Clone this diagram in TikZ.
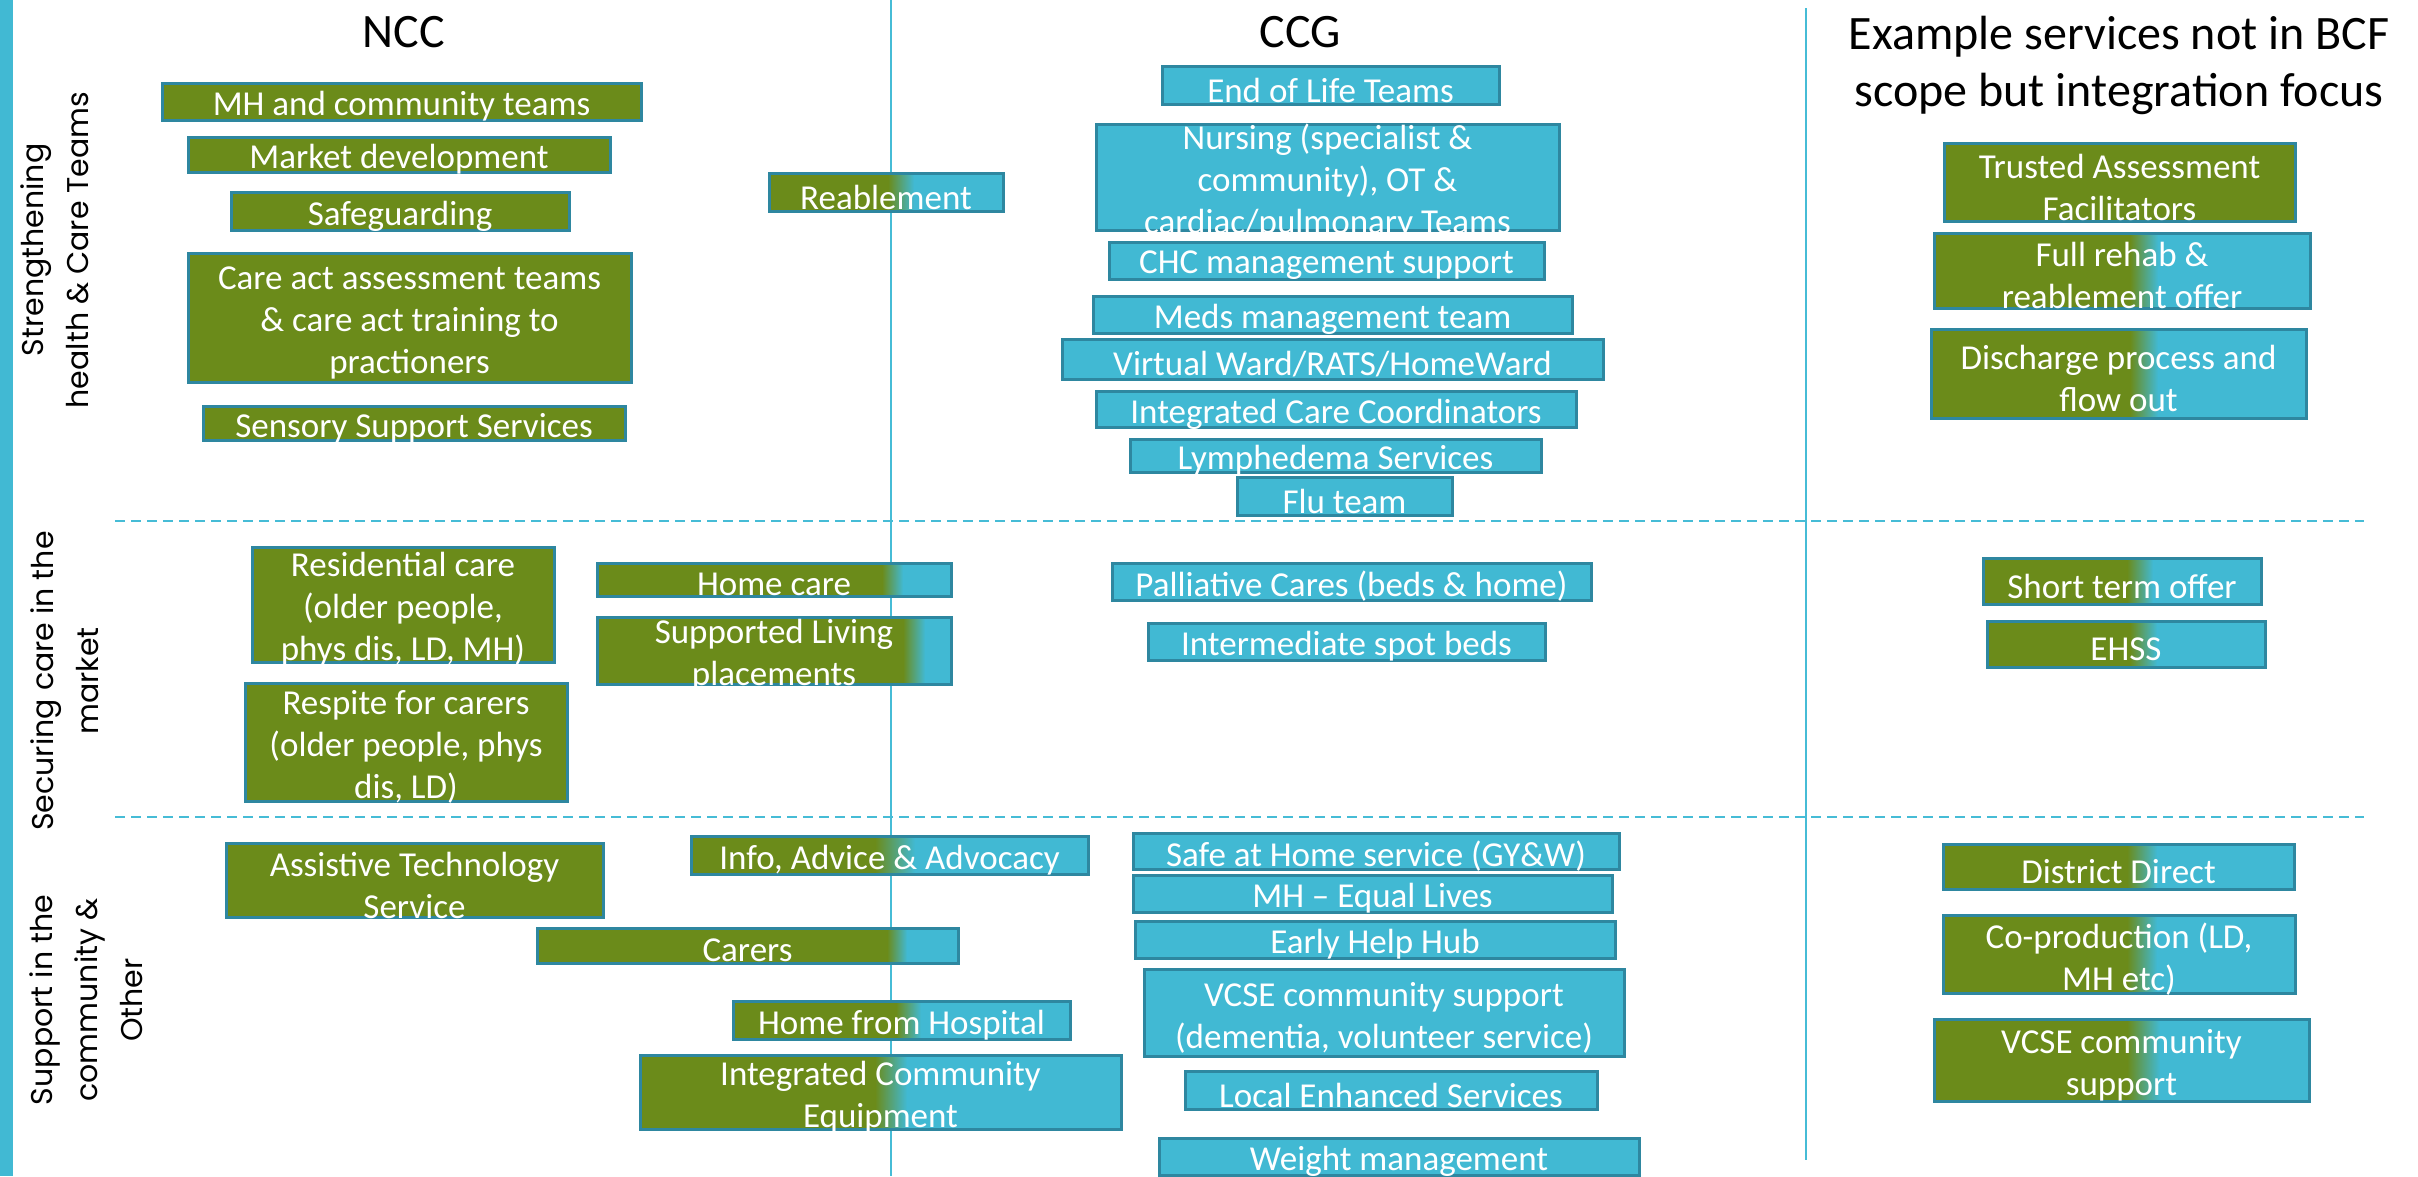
\documentclass[tikz,border=0pt]{standalone}
\usepackage{fontspec}
\setmainfont{Carlito}
\newfontfamily\gothic{Poppins}
\definecolor{ngreen}{RGB}{107,139,26}
\definecolor{nblue}{RGB}{65,185,211}
\definecolor{nborder}{RGB}{46,135,160}
\definecolor{nline}{RGB}{70,188,214}
\tikzset{
  boxtext/.style={text=white, align=center, font=\fontsize{35}{42}\selectfont, inner sep=0pt, yshift=-5pt},
  border/.style={draw=nborder, line width=3pt},
  title/.style={font=\fontsize{48}{57}\selectfont, align=center, inner sep=0pt},
  rowlabel/.style={font=\gothic\fontsize{30}{45}\selectfont, rotate=90, align=center, inner sep=0pt},
  divider/.style={draw=nline, line width=2.5pt},
  sectionrule/.style={draw=nline, line width=2.5pt, dash pattern=on 10pt off 6pt},
}
\newcommand{\plainbox}[7]{%
  \filldraw[fill=#6, border] (#2,#3) rectangle (#4,#5);
  \node[boxtext] (#1) at ({(#2+#4)/2},{(#3+#5)/2}) {#7};}
\newcommand{\mixbox}[8]{%
  \fill[ngreen] (#2,#3) rectangle (#6+1,#5);
  \fill[nblue] (#7-1,#3) rectangle (#4,#5);
  \shade[left color=ngreen, right color=nblue] (#6,#3) rectangle (#7,#5);
  \draw[border] (#2,#3) rectangle (#4,#5);
  \node[boxtext] (#1) at ({(#2+#4)/2},{(#3+#5)/2}) {#8};}
\begin{document}
\begin{tikzpicture}[x=1pt,y=-1pt]
\useasboundingbox (0,0) rectangle (2418,1176);
% left bar
\fill[nblue] (0,0) rectangle (13,1176);
% dividers
\coordinate (v1t) at (891,0); \coordinate (v1b) at (891,1176);
\coordinate (v2t) at (1806,8); \coordinate (v2b) at (1806,1160);
\coordinate (h1l) at (115,521); \coordinate (h1r) at (2364,521);
\coordinate (h2l) at (115,817); \coordinate (h2r) at (2364,817);
\draw[divider] (v1t) -- (v1b);
\draw[divider] (v2t) -- (v2b);
\draw[sectionrule] (h1l) -- (h1r);
\draw[sectionrule] (h2l) -- (h2r);
% titles
\node[title] (ncc) at (404,32) {NCC};
\node[title] (ccg) at (1300,32) {CCG};
\node[title] (other) at (2119,65) {Example services not in BCF\\scope but integration focus};
% row labels
\node[rowlabel] (row1) at (55,250) {Strengthening\\health \& Care Teams};
\node[rowlabel] (row2) at (65,681) {Securing care in the\\market};
\node[rowlabel] (row3) at (86,1000) {Support in the\\community \&\\Other};
% NCC
\plainbox{mh}{162}{83}{641}{120}{ngreen}{MH and community teams}
\plainbox{market}{188}{137}{610}{172}{ngreen}{Market development}
\plainbox{safe}{231}{192}{569}{230}{ngreen}{Safeguarding}
\plainbox{careact}{188}{253}{631}{382}{ngreen}{Care act assessment teams\\\& care act training to\\practioners}
\plainbox{sensory}{203}{406}{625}{440}{ngreen}{Sensory Support Services}
\mixbox{reable}{769}{173}{1003}{211}{888}{914}{Reablement}
% CCG
\plainbox{eol}{1162}{66}{1499}{104}{nblue}{End of Life Teams}
\plainbox{nursing}{1096}{124}{1559}{230}{nblue}{Nursing (specialist \&\\community), OT \&\\cardiac/pulmonary Teams}
\plainbox{chc}{1109}{242}{1544}{279}{nblue}{CHC management support}
\plainbox{meds}{1093}{296}{1572}{333}{nblue}{Meds management team}
\plainbox{vw}{1062}{339}{1603}{379}{nblue}{Virtual Ward/RATS/HomeWard}
\plainbox{icc}{1096}{391}{1576}{427}{nblue}{Integrated Care Coordinators}
\plainbox{lymph}{1130}{439}{1541}{472}{nblue}{Lymphedema Services}
\plainbox{flu}{1237}{477}{1452}{515}{nblue}{Flu team}
% right
\plainbox{trusted}{1944}{143}{2295}{221}{ngreen}{Trusted Assessment\\Facilitators}
\mixbox{rehab}{1934}{233}{2310}{308}{2130}{2158}{Full rehab \&\\reablement offer}
\mixbox{discharge}{1931}{329}{2306}{418}{2130}{2158}{Discharge process and\\flow out}
% securing care
\plainbox{resid}{252}{547}{554}{662}{ngreen}{Residential care\\(older people,\\phys dis, LD, MH)}
\plainbox{respite}{245}{683}{567}{801}{ngreen}{Respite for carers\\(older people, phys\\dis, LD)}
\mixbox{homecare}{597}{563}{951}{596}{882}{903}{Home care}
\mixbox{supported}{597}{617}{951}{684}{903}{925}{Supported Living\\placements}
\plainbox{palliative}{1112}{563}{1591}{600}{nblue}{Palliative Cares (beds \& home)}
\plainbox{intermediate}{1148}{623}{1545}{660}{nblue}{Intermediate spot beds}
\mixbox{shortterm}{1983}{558}{2261}{604}{2127}{2153}{Short term offer}
\mixbox{ehss}{1987}{621}{2265}{667}{2130}{2157}{EHSS}
% support
\plainbox{assistive}{226}{843}{603}{917}{ngreen}{Assistive Technology\\Service}
\mixbox{info}{691}{836}{1088}{874}{875}{915}{Info, Advice \& Advocacy}
\mixbox{carers}{537}{928}{958}{963}{887}{907}{Carers}
\mixbox{hfh}{733}{1001}{1070}{1039}{896}{921}{Home from Hospital}
\mixbox{ice}{640}{1055}{1121}{1129}{875}{907}{Integrated Community\\Equipment}
\plainbox{safehome}{1133}{833}{1619}{869}{nblue}{Safe at Home service (GY\&W)}
\plainbox{mhel}{1133}{875}{1612}{912}{nblue}{MH – Equal Lives}
\plainbox{ehh}{1135}{921}{1615}{958}{nblue}{Early Help Hub}
\plainbox{vcse}{1144}{969}{1624}{1056}{nblue}{VCSE community support\\(dementia, volunteer service)}
\plainbox{les}{1185}{1071}{1597}{1109}{nblue}{Local Enhanced Services}
\plainbox{weight}{1159}{1138}{1639}{1175}{nblue}{Weight management}
\mixbox{district}{1943}{844}{2294}{889}{2127}{2157}{District Direct}
\mixbox{coprod}{1943}{915}{2295}{993}{2127}{2157}{Co-production (LD,\\MH etc)}
\mixbox{vcsetwo}{1934}{1019}{2309}{1101}{2127}{2160}{VCSE community\\support}
\end{tikzpicture}
\end{document}
